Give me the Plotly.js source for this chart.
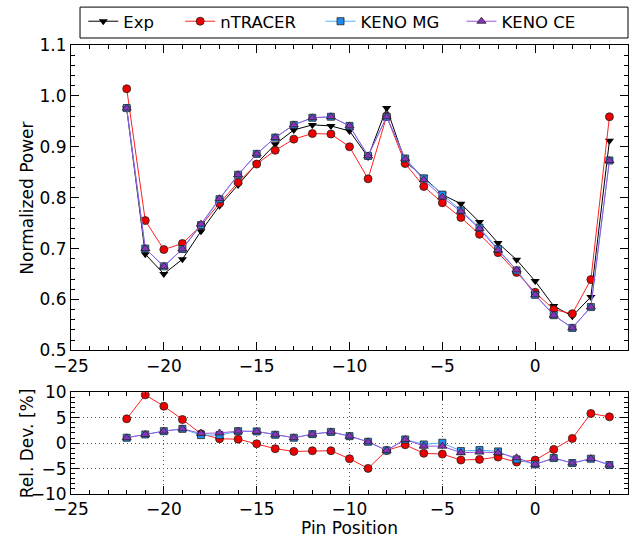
<!DOCTYPE html>
<html>
<head>
<meta charset="utf-8">
<script src="https://cdn.plot.ly/plotly-3.0.1.min.js"></script>
<style>html,body{margin:0;padding:0;background:#fff;}#chart{width:633px;height:539px;}</style>
</head>
<body>
<div id="chart"></div>
<script>
var pins = [-22,-21,-20,-19,-18,-17,-16,-15,-14,-13,-12,-11,-10,-9,-8,-7,-6,-5,-4,-3,-2,-1,0,1,2,3,4];
var expPower = [0.975,0.689,0.650,0.679,0.734,0.784,0.825,0.867,0.905,0.933,0.943,0.941,0.931,0.880,0.976,0.871,0.840,0.806,0.788,0.752,0.711,0.678,0.636,0.587,0.567,0.605,0.912];
var ntracerPower = [1.014,0.755,0.698,0.710,0.745,0.789,0.830,0.866,0.893,0.915,0.926,0.925,0.900,0.837,0.960,0.867,0.822,0.790,0.761,0.728,0.692,0.653,0.614,0.580,0.572,0.639,0.959];
var kenoMgPower = [0.976,0.700,0.665,0.699,0.746,0.797,0.845,0.886,0.918,0.943,0.957,0.959,0.941,0.882,0.959,0.877,0.838,0.806,0.775,0.741,0.699,0.657,0.609,0.569,0.544,0.585,0.873];
var kenoCePower = [0.976,0.700,0.665,0.699,0.748,0.798,0.845,0.886,0.918,0.943,0.957,0.959,0.941,0.882,0.959,0.876,0.835,0.801,0.773,0.739,0.697,0.658,0.609,0.569,0.544,0.585,0.873];
var ntracerDev = [4.77,9.48,7.25,4.64,1.83,0.85,0.78,-0.13,-1.10,-1.63,-1.50,-1.50,-3.07,-4.97,-1.44,-0.33,-2.00,-2.16,-3.33,-3.20,-2.75,-3.73,-3.33,-1.24,0.92,5.82,5.16];
var kenoMgDev = [1.05,1.70,2.35,2.80,1.57,1.57,2.35,2.30,1.63,1.05,1.76,2.20,1.37,0.26,-1.44,0.72,-0.26,0.07,-1.57,-1.37,-1.63,-3.20,-4.18,-2.94,-3.92,-3.07,-4.30];
var kenoCeDev = [1.05,1.70,2.35,2.80,1.90,2.00,2.35,2.30,1.63,1.05,1.76,2.20,1.37,0.26,-1.44,0.72,-0.60,-0.60,-1.90,-1.76,-1.90,-2.88,-4.18,-2.94,-3.92,-3.07,-4.30];

var FONT = 'DejaVu Sans, sans-serif';
var edge = {color:'#222', width:0.8};
var traces = [
  {x:pins, y:expPower, name:'Exp', mode:'lines+markers', xaxis:'x', yaxis:'y', legend:'legend',
   line:{color:'#000', width:1}, marker:{symbol:'triangle-down', size:8, color:'#000'}},
  {x:pins, y:ntracerPower, name:'nTRACER', mode:'lines+markers', xaxis:'x', yaxis:'y', legend:'legend2',
   line:{color:'#ff2020', width:1}, marker:{symbol:'circle', size:8, color:'#ee0000', line:edge}},
  {x:pins, y:kenoMgPower, name:'KENO MG', mode:'lines+markers', xaxis:'x', yaxis:'y', legend:'legend3',
   line:{color:'#55b0ff', width:1}, marker:{symbol:'square', size:7, color:'#1e8cf0', line:edge}},
  {x:pins, y:kenoCePower, name:'KENO CE', mode:'lines+markers', xaxis:'x', yaxis:'y', legend:'legend4',
   line:{color:'#9955dd', width:1}, marker:{symbol:'triangle-up', size:8, color:'#8833bb', line:edge}},
  {x:pins, y:ntracerDev, name:'nTRACER', mode:'lines+markers', xaxis:'x2', yaxis:'y2', showlegend:false,
   line:{color:'#ff2020', width:1}, marker:{symbol:'circle', size:8, color:'#ee0000', line:edge}},
  {x:pins, y:kenoMgDev, name:'KENO MG', mode:'lines+markers', xaxis:'x2', yaxis:'y2', showlegend:false,
   line:{color:'#55b0ff', width:1}, marker:{symbol:'square', size:7, color:'#1e8cf0', line:edge}},
  {x:pins, y:kenoCeDev, name:'KENO CE', mode:'lines+markers', xaxis:'x2', yaxis:'y2', showlegend:false,
   line:{color:'#9955dd', width:1}, marker:{symbol:'triangle-up', size:8, color:'#8833bb', line:edge}}
];

function axisBase(extra){
  var a = {showline:true, linecolor:'#000', linewidth:1, mirror:'allticks', ticks:'inside', ticklen:8,
    tickcolor:'#000', tickwidth:1, zeroline:false, showgrid:false, tickfont:{family:FONT, size:17, color:'#000'}};
  for (var k in extra) a[k] = extra[k];
  return a;
}
function leg(x){
  return {x:x, xanchor:'left', y:1.05, yanchor:'middle', orientation:'h', bgcolor:'rgba(0,0,0,0)',
    font:{family:FONT, size:16.5, color:'#000'}, itemwidth:30};
}
var gridStyle = {showgrid:true, gridcolor:'#555', griddash:'1px,3px', gridwidth:1};

var layout = {
  width:633, height:539,
  margin:{l:71, r:5, t:44, b:45},
  paper_bgcolor:'#fff', plot_bgcolor:'#fff',
  font:{family:FONT, size:17, color:'#000'},
  xaxis: axisBase({domain:[0,1], range:[-25,5], dtick:5, anchor:'y', minor:{ticks:'inside', ticklen:4, dtick:1, tickcolor:'#000'}}),
  yaxis: axisBase({domain:[0.32,1], range:[0.5,1.1], dtick:0.1, tickformat:'.1f', anchor:'x',
    minor:{ticks:'inside', ticklen:4, dtick:0.02, tickcolor:'#000'}}),
  xaxis2: axisBase(Object.assign({domain:[0,1], range:[-25,5], dtick:5, anchor:'y2',
    minor:{ticks:'inside', ticklen:4, dtick:1, tickcolor:'#000'}}, gridStyle)),
  yaxis2: axisBase(Object.assign({domain:[0,0.2267], range:[-10,10], dtick:5, anchor:'x2',
    minor:{ticks:'inside', ticklen:4, dtick:1, tickcolor:'#000'}}, gridStyle)),
  legend: leg(0.022),
  legend2: leg(0.196),
  legend3: leg(0.448),
  legend4: leg(0.701),
  shapes:[{type:'rect', xref:'paper', yref:'paper', x0:0.0162, x1:1.0, y0:1.0156, y1:1.0844,
    line:{color:'#000', width:1}, fillcolor:'rgba(0,0,0,0)'}],
  annotations:[
    {text:'Normalized Power', xref:'paper', yref:'paper', x:-0.079, y:0.66, textangle:-90, showarrow:false,
     xanchor:'center', yanchor:'middle', font:{family:FONT, size:17, color:'#000'}},
    {text:'Rel. Dev. [%]', xref:'paper', yref:'paper', x:-0.079, y:0.113, textangle:-90, showarrow:false,
     xanchor:'center', yanchor:'middle', font:{family:FONT, size:17, color:'#000'}},
    {text:'Pin Position', xref:'paper', yref:'paper', x:0.5, y:-0.076, showarrow:false,
     xanchor:'center', yanchor:'middle', font:{family:FONT, size:17, color:'#000'}}
  ],
  showlegend:true
};

Plotly.newPlot('chart', traces, layout, {displayModeBar:false, staticPlot:true});
</script>
</body>
</html>
